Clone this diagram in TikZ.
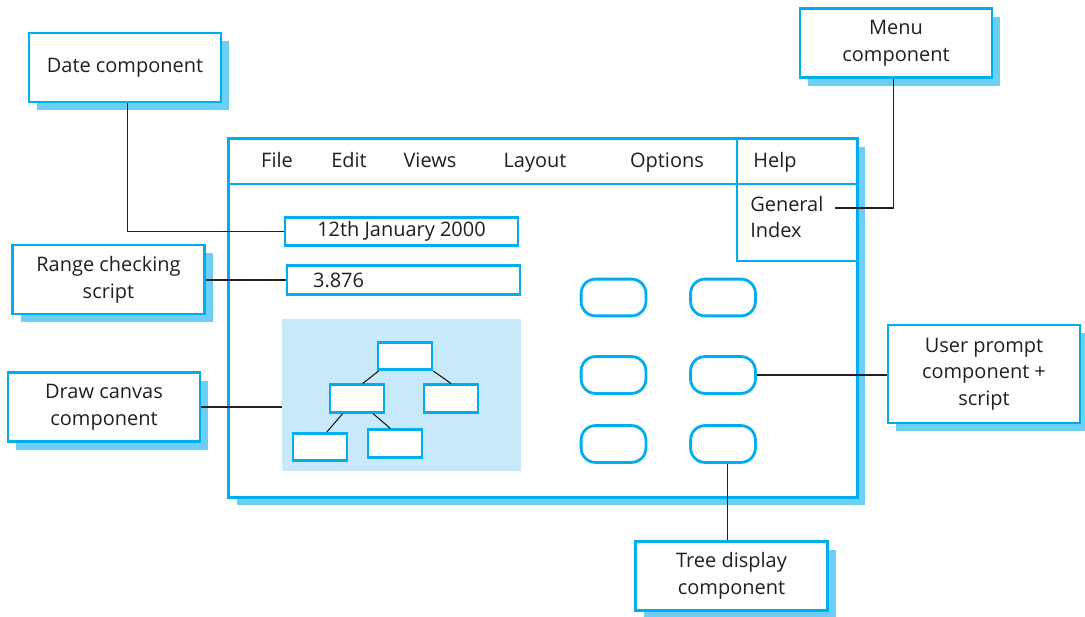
\documentclass[tikz,border=0pt]{standalone}
\usepackage{fontspec}
\setsansfont{Open Sans}
\usetikzlibrary{positioning, calc, shadows}
\definecolor{ccyan}{HTML}{00AEEF}
\definecolor{cshade}{HTML}{6DCFF6}
\definecolor{cpale}{HTML}{C8E9F9}
\definecolor{cink}{HTML}{231F20}
\tikzset{
  every picture/.style={font=\sffamily\fontsize{14.2}{19}\selectfont, text=cink},
  lbl/.style={draw=ccyan, fill=white, line width=2pt, align=center, minimum width=4.8cm, minimum height=1.72cm,
              general shadow={fill=cshade, shadow xshift=0.21cm, shadow yshift=-0.21cm}},
  fld/.style={draw=ccyan, line width=2pt, minimum width=5.82cm, minimum height=0.72cm, inner sep=0pt},
  link/.style={draw=cink, line width=0.8pt},
}
\begin{document}
\begin{tikzpicture}[x={(0.025cm,0)}, y={(0,-0.025cm)},
                    btn/.style={draw=ccyan, line width=2pt, rounded corners=0.36cm, minimum width=1.62cm, minimum height=0.92cm},
                    tbox/.style={draw=ccyan, fill=white, line width=2pt, minimum width=1.35cm, minimum height=0.68cm}]
  \useasboundingbox (0,0) rectangle (1085,617);
  % the window
  \node[draw=ccyan, fill=white, line width=2.2pt, minimum width=15.7cm, minimum height=8.95cm,
        general shadow={fill=cshade, shadow xshift=0.21cm, shadow yshift=-0.21cm}] (win) at (543,318) {};
  \draw[ccyan, line width=1pt] (229,184) -- (857,184);
  \draw[ccyan, line width=1pt] (737,139) -- (737,261) -- (857,261);
  \foreach \t/\x in {File/277, Edit/349, Views/430, Layout/535, Options/667, Help/775}
    \node[anchor=base] (m\t) at (\x,168) {\t};
  \node[align=left, anchor=west, inner sep=0pt] (gi) at (750,217) {General\\Index};
  \coordinate (gic) at (835,208);
  % fields
  \node[fld] (datef) at (401.5,231.5) {12th January 2000};
  \node[fld, inner xsep=0.65cm, text width=4.52cm, align=left] (rangef) at (403.5,280) {3.876};
  % canvas with tree
  \node[fill=cpale, minimum width=5.98cm, minimum height=3.8cm] (canvas) at (401.5,395) {};
  \node[tbox] (t0) at (405,356) {};
  \node[tbox] (t1) at (357,398.5) {};
  \node[tbox] (t2) at (451,398.5) {};
  \node[tbox] (t3) at (320,447) {};
  \node[tbox] (t4) at (395,443.5) {};
  \draw[link] ($(t0.south west)+(2,0)$) -- ($(t1.north west)!0.6!(t1.north east)$);
  \draw[link] (t0.south east) -- ($(t2.north west)!0.5!(t2.north east)$);
  \draw[link] ($(t1.south west)!0.25!(t1.south east)$) -- ($(t3.north west)!0.62!(t3.north east)$);
  \draw[link] ($(t1.south west)!0.78!(t1.south east)$) -- ($(t4.north west)!0.42!(t4.north east)$);
  % buttons
  \foreach \r/\y in {1/297.5, 2/375, 3/444}
    \foreach \c/\x in {1/613.5, 2/723}
      \node[btn] (b\r\c) at (\x,\y) {};
  % component labels
  \node[lbl] (date) at (125,67.5) {Date component};
  \node[lbl] (range) at (108.5,279.5) {Range checking\\script};
  \node[lbl] (canv) at (104,407) {Draw canvas\\component};
  \node[lbl] (menu) at (896,43) {Menu\\component};
  \node[lbl, minimum height=2.45cm] (user) at (984,374) {User prompt\\component +\\script};
  \node[lbl] (tree) at (731.5,576) {Tree display\\component};
  \draw[link] ([xshift=0.07cm]date.south) |- (datef.west);
  \draw[link] (rangef.west) -- (rangef.west -| range.east);
  \draw[link] (canv.east) -- (canv.east -| canvas.west);
  \draw[link] (gic) -| ([xshift=-0.07cm]menu.south);
  \draw[link] (b22.east) -- (b22.east -| user.west);
  \draw[link] ([xshift=0.12cm]b32.south) -- ([xshift=0.12cm]b32.south |- tree.north);
\end{tikzpicture}
\end{document}
